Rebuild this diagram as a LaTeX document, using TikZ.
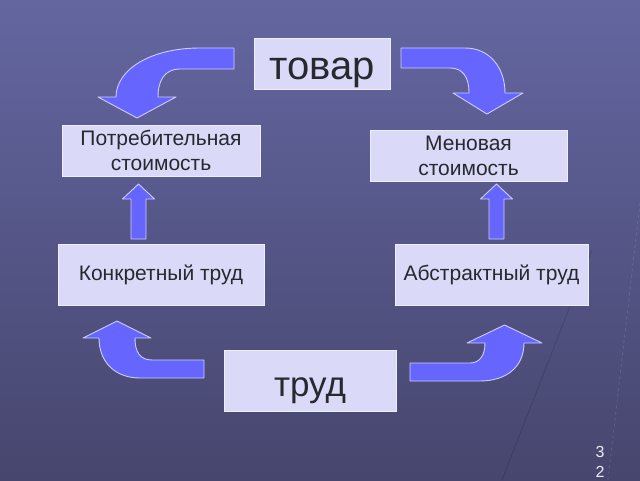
\documentclass[tikz,border=0pt]{standalone}
\usepackage{fontspec}
\setmainfont{Liberation Sans}
\usepackage{xcolor}
\usetikzlibrary{calc}
\definecolor{bgtop}{RGB}{100,102,160}
\definecolor{bgbot}{RGB}{70,70,110}
\definecolor{boxfill}{RGB}{218,218,248}
\definecolor{boxedge}{RGB}{238,238,255}
\definecolor{arrfill}{RGB}{102,102,255}
\definecolor{arredge}{RGB}{205,205,255}
\definecolor{txt}{RGB}{40,40,48}
\newcommand{\uparr}[1]{\draw[blockarrow] (#1,239) ++(-7.5,0) -- ++(0,-40) -- ++(-8.5,0) -- ++(16,-15) -- ++(16,15) -- ++(-8.5,0) -- ++(0,40) -- cycle;}

\begin{document}
\begin{tikzpicture}[x=1pt,y=-1pt, valbox/.style={draw=boxedge,fill=boxfill,line width=0.8pt,text=txt,inner sep=0pt,align=center,font=\fontsize{21}{25}\selectfont}, blockarrow/.style={fill=arrfill,draw=arredge,line width=0.9pt,line join=round}]
	%background
	\useasboundingbox (0,0) rectangle (640,480);
	\shade[top color=bgtop,bottom color=bgbot] (0,0) rectangle (640,480);
	\draw[white,opacity=.12,line width=.8pt,dashed] (640,203) -- (608,480);
	\draw[black,opacity=.15,line width=.8pt] (592,250) -- (502,480);
	%%boxes placed by hand
	\node[valbox,minimum width=136,minimum height=51,text height=31,text depth=0,font=\fontsize{40}{44}\selectfont] (tovar) at (322.5,63.5){товар};
	\node[valbox,minimum width=198,minimum height=51] (potreb) at (161,150.5){Потребительная\\стоимость};
	\node[valbox,minimum width=197,minimum height=51] (menov) at (468.5,155.5){Меновая\\стоимость};
	\node[valbox,minimum width=206,minimum height=61] (konkr) at (161,275){Конкретный труд};
	\node[valbox,minimum width=193,minimum height=61] (abstr) at (491.5,275){Абстрактный труд};
	\node[valbox,minimum width=172,minimum height=61,text height=30,text depth=0,font=\fontsize{35}{40}\selectfont] (trud) at (310,381){труд};
	%% bent arrows
	\draw[blockarrow] (234,48) -- (200,48) .. controls (150,48) and (116,70) .. (116,97) -- (98,97) -- (137,118) -- (176,97) -- (158,97) .. controls (158,80) and (165,69) .. (180,69) -- (234,69) -- cycle;
	\draw[blockarrow] (401,48) -- (465,48) .. controls (490,48) and (505,68) .. (505,93) -- (523,93) -- (487,114) -- (453,93) -- (469,93) .. controls (469,76) and (462,68) .. (450,68) -- (401,68) -- cycle;
	\draw[blockarrow] (204,360) -- (152,360) .. controls (140,360) and (135,352) .. (135,338) -- (151,338) -- (117,321) -- (83,338) -- (99,338) .. controls (99,362) and (115,378) .. (140,378) -- (204,378) -- cycle;
	\draw[blockarrow] (410,363) -- (470,363) .. controls (480,363) and (485,355) .. (485,343) -- (467,343) -- (504.5,325) -- (542,343) -- (524,343) .. controls (524,368) and (505,381) .. (480,381) -- (410,381) -- cycle;
	%% straight arrows
	\uparr{138.5}
	\uparr{496.5}
	%slide number
	\node[text=white!90!bgbot,align=center,inner sep=0pt,font=\fontsize{16}{20}\selectfont] (pnum) at (600,462){3\\2};
\end{tikzpicture}
\end{document}
